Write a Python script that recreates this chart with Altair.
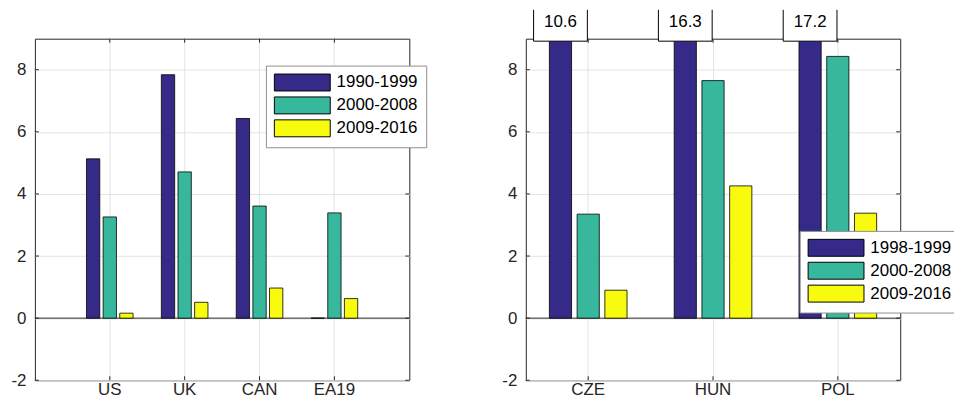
import altair as alt
import pandas as pd

# left panel: advanced economies
left_countries = ["US", "UK", "CAN", "EA19"]
left_periods = ["1990-1999", "2000-2008", "2009-2016"]
left_p1 = [5.13, 7.84, 6.43, 0.0]
left_p2 = [3.26, 4.71, 3.61, 3.39]
left_p3 = [0.16, 0.51, 0.97, 0.63]

# right panel: central european economies (first bars run off the axis)
right_countries = ["CZE", "HUN", "POL"]
right_periods = ["1998-1999", "2000-2008", "2009-2016"]
right_p1 = [10.6, 16.3, 17.2]
right_p2 = [3.35, 7.65, 8.43]
right_p3 = [0.90, 4.26, 3.38]

y_ticks = [-2, 0, 2, 4, 6, 8]
colors = ["#352a87", "#37b89d", "#f9fb0e"]

W, H = 376, 343
FS = 17
FONT = "Liberation Sans"
INK = "#262626"
GRID = "#e3e3e3"
# wide rectangle swatch, offset so it starts at the entry's left edge
SWATCH = "M-1,-1L5.6,-1L5.6,1L-1,1Z"


def long_table(countries, periods, series):
    rows = []
    for period, vals in zip(periods, series):
        for c, v in zip(countries, vals):
            rows.append({"country": c, "period": period, "value": v})
    return pd.DataFrame(rows)


def panel(countries, periods, series, outer, lx, ly, labels=False):
    df = long_table(countries, periods, series)

    x_scale = alt.Scale(paddingInner=0, paddingOuter=outer)
    y_scale = alt.Scale(domain=[-2, 9], nice=False, zero=False)
    off_scale = alt.Scale(paddingInner=0.2, paddingOuter=0.85)

    x = alt.X("country:N", sort=countries, scale=x_scale, title=None,
              axis=alt.Axis(labelAngle=0, labelAlign="center", labelFontSize=FS,
                            labelColor=INK, labelPadding=9, tickSize=0,
                            domain=False, grid=True, gridColor=GRID,
                            bandPosition=0.5))
    x_plain = alt.X("country:N", sort=countries, scale=x_scale, title=None)
    xoff = alt.XOffset("period:N", sort=periods, scale=off_scale)

    bars = alt.Chart(df).mark_bar(clip=True, stroke="black", strokeWidth=0.8).encode(
        x=x,
        xOffset=xoff,
        y=alt.Y("value:Q", scale=y_scale, title=None,
                axis=alt.Axis(values=y_ticks, labelExpr="'' + datum.value",
                              labelFontSize=FS, labelColor=INK, labelPadding=9,
                              tickSize=0, domain=False, grid=True, gridColor=GRID)),
        y2=alt.datum(0),
        color=alt.Color("period:N", sort=periods,
                        scale=alt.Scale(domain=periods, range=colors),
                        legend=alt.Legend(
                            orient="none", legendX=lx, legendY=ly, title=None,
                            symbolType=SWATCH, symbolSize=289,
                            symbolStrokeColor="black", symbolStrokeWidth=1,
                            symbolOpacity=1, labelFont=FONT, labelFontSize=FS,
                            labelColor="black", labelOffset=45, rowPadding=1,
                            padding=8, strokeColor="#8f8f8f", fillColor="white")),
    )

    zero = alt.Chart(pd.DataFrame({"v": [0]})).mark_rule(color=INK, strokeWidth=1).encode(
        y=alt.Y("v:Q", scale=y_scale, title=None)
    )

    # inward tick marks on the box
    tick_df = pd.DataFrame({"t": y_ticks})
    yt_left = alt.Chart(tick_df).mark_rule(color=INK).encode(
        y=alt.Y("t:Q", scale=y_scale, title=None), x=alt.value(0), x2=alt.value(4))
    yt_right = alt.Chart(tick_df).mark_rule(color=INK).encode(
        y=alt.Y("t:Q", scale=y_scale, title=None), x=alt.value(W - 4), x2=alt.value(W))
    cdf = pd.DataFrame({"country": countries})
    xt_bottom = alt.Chart(cdf).mark_rule(color=INK).encode(
        x=x_plain, y=alt.value(H - 4), y2=alt.value(H))
    xt_top = alt.Chart(cdf).mark_rule(color=INK).encode(
        x=x_plain, y=alt.value(0), y2=alt.value(4))

    layers = [zero, yt_left, yt_right, xt_bottom, xt_top, bars]

    if labels:
        lab = pd.DataFrame({
            "country": countries,
            "period": periods[0],
            "label": [f"{v:.1f}" for v in series[0]],
        })
        # open-topped white box: the dash pattern skips the top edge
        box = alt.Chart(lab).mark_bar(
            width=54, fill="white", stroke="black", strokeWidth=1,
            strokeDash=[0, 54, 400],
        ).encode(x=x_plain, xOffset=xoff, y=alt.value(-29), y2=alt.value(2.5))
        text = alt.Chart(lab).mark_text(font=FONT, fontSize=FS, color="black").encode(
            x=x_plain, xOffset=xoff, y=alt.value(-17), text="label:N")
        layers += [box, text]

    return alt.layer(*layers).properties(width=W, height=H)


left = panel(left_countries, left_periods, [left_p1, left_p2, left_p3],
             outer=0.5, lx=232, ly=27)
right = panel(right_countries, right_periods, [right_p1, right_p2, right_p3],
              outer=0, lx=275, ly=193, labels=True)

# negative right padding trims the page to the window, clipping the
# right-hand legend box at the edge as in the original figure
chart = alt.hconcat(left, right, spacing=117, bounds="flush").resolve_scale(
    color="independent", xOffset="independent"
).properties(
    padding={"left": 2, "top": 0, "right": -7, "bottom": 0}
).configure(
    font=FONT,
).configure_view(
    stroke=INK, strokeWidth=1
).configure_axis(
    labelFont=FONT
)

chart.save("out.html", embed_options={"renderer": "svg", "actions": False})
